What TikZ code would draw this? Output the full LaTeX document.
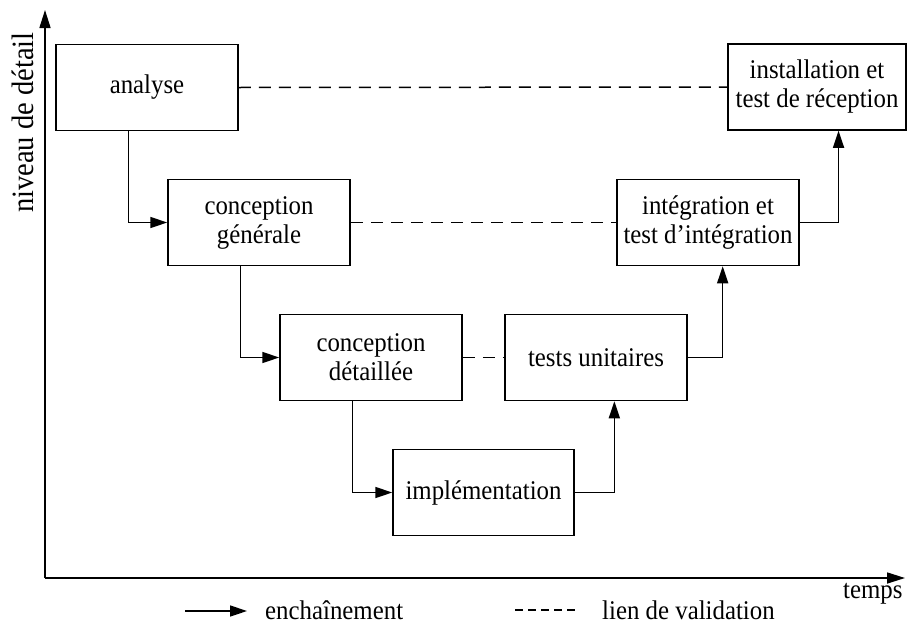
\documentclass[tikz,border=0pt]{standalone}
\usepackage{fontspec}
\setmainfont{Liberation Serif}[FakeStretch=0.92]
\usetikzlibrary{arrows.meta,calc}

\tikzset{
  box/.style={draw, line width=1.5pt, minimum width=182pt, minimum height=86pt,
              inner sep=0pt, align=center, font=\fontsize{27}{29}\selectfont},
  flow/.style={draw, line width=1.5pt, -{Triangle[length=17pt,width=11pt]}},
  axis/.style={draw, line width=1.6pt, -{Triangle[length=18pt,width=11pt]}},
  check/.style={draw, line width=1.5pt, dash pattern=on 12pt off 8pt},
  lbl/.style={inner sep=0pt, font=\fontsize{27}{31}\selectfont},
}

\begin{document}
\begin{tikzpicture}[x=1pt, y=-1pt]
\useasboundingbox (0,0) rectangle (907,624);

% axes
\coordinate (origin) at (45,578);
\coordinate (ytip) at (45,10);
\coordinate (xtip) at (905,578);
\draw[axis] (origin) -- (ytip);
\draw[axis] (origin) -- (xtip);
\node[lbl, rotate=90, anchor=base west, font=\fontsize{31}{35}\selectfont]
  (ylabel) at (33,213) {niveau de détail};
\node[lbl, anchor=base west] (xlabel) at (843,598) {temps};

% phases
\node[box] (analyse) at (147,87.5) {analyse};
\node[box, minimum width=178pt] (install) at (817,87) {installation et\\test de réception};
\node[box] (congen) at (259,222.5) {conception\\générale};
\node[box] (integ) at (708,222.5) {intégration et\\test d’intégration};
\node[box] (condet) at (371,357.5) {conception\\détaillée};
\node[box] (tests) at (596,357.5) {tests unitaires};
\node[box, minimum width=181pt] (impl) at (483.5,492.5) {implémentation};

% sequencing
\draw[flow] ($(analyse.south west)!0.4!(analyse.south east)$) |- (congen.west);
\draw[flow] ($(congen.south west)!0.4!(congen.south east)$) |- (condet.west);
\draw[flow] ($(condet.south west)!0.4!(condet.south east)$) |- (impl.west);
\draw[flow] (impl.east) -| ($(tests.south west)!0.6!(tests.south east)$);
\draw[flow] (tests.east) -| ($(integ.south west)!0.58!(integ.south east)$);
\draw[flow] (integ.east) -| ($(install.south west)!0.62!(install.south east)$);

% validation links
\draw[check] (analyse.east) -- (install.west);
\draw[check] (congen.east) -- (integ.west);
\draw[check] (condet.east) -- (tests.west);

% legend
\coordinate (la1) at (185,611);
\coordinate (la2) at (247,611);
\draw[flow] (la1) -- (la2);
\node[lbl, anchor=base west] (lenc) at (265,619) {enchaînement};
\coordinate (ld1) at (515,610);
\coordinate (ld2) at (578,610);
\draw[line width=1.5pt, dash pattern=on 8pt off 5pt] (ld1) -- (ld2);
\node[lbl, anchor=base west] (lval) at (602,619) {lien de validation};
\end{tikzpicture}
\end{document}
